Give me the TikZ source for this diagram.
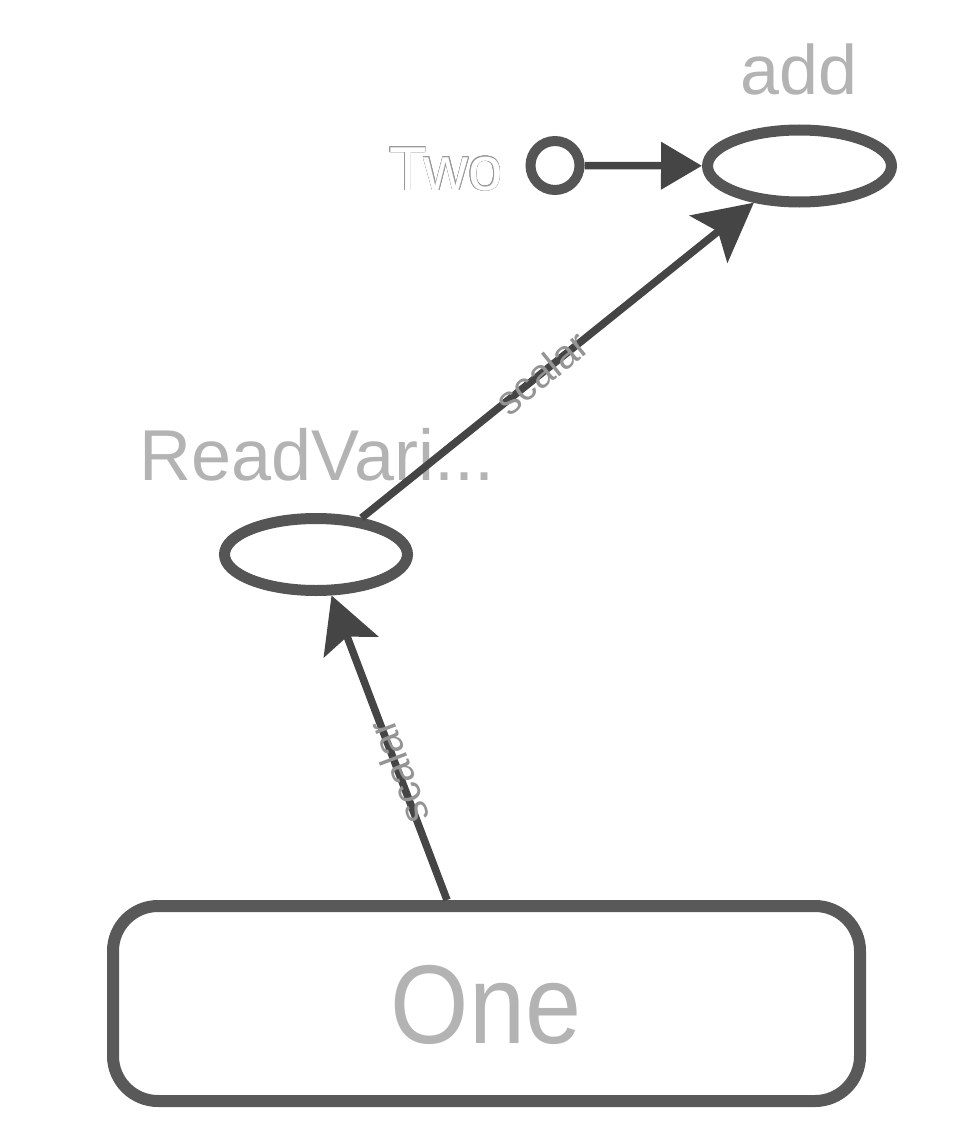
\documentclass[tikz,border=0pt]{standalone}
\usepackage{fontspec}
\setmainfont{Liberation Sans}
\usepackage{contour}
\contourlength{0.6pt}
\usetikzlibrary{shapes.geometric,arrows.meta}
\definecolor{nodeline}{HTML}{555555}
\definecolor{boxline}{HTML}{595959}
\definecolor{arrowline}{HTML}{454545}
\definecolor{labeltext}{HTML}{B3B3B3}
\definecolor{edgetext}{HTML}{949494}
\definecolor{outlinegray}{HTML}{999999}
\tikzset{
  opnode/.style={ellipse, draw=nodeline, line width=11pt, inner sep=0pt,
    minimum width=184pt, minimum height=72pt, fill=white},
  srcnode/.style={circle, draw=nodeline, line width=10pt, inner sep=0pt,
    minimum size=49pt, fill=white},
  boxnode/.style={rectangle, rounded corners=45pt, draw=boxline, line width=12pt,
    inner sep=0pt, minimum width=747pt, minimum height=195pt},
  nametext/.style={text=labeltext, inner sep=0pt, anchor=base},
  flow/.style={draw=arrowline, line width=7.5pt},
  edgelabel/.style={text=edgetext, inner sep=0pt, anchor=north,
    text height=10pt, text depth=0pt,
    font=\fontsize{40}{44}\selectfont}
}
\begin{document}
\begin{tikzpicture}[x=1pt,y=-1pt]
\useasboundingbox (0,0) rectangle (966,1134);
% nodes
\node[opnode] (add) at (799.5,166) {};
\node[opnode, minimum width=183pt] (read) at (316,554.5) {};
\node[srcnode] (two) at (555,165.5) {};
\node[boxnode] (one) at (486.5,1003.5) {};
% names
\node[nametext, font=\fontsize{70}{80}\selectfont] (addname) at (799,95) {add};
\node[inner sep=0pt, anchor=base, font=\fontsize{62}{70}\selectfont] (twoname) at (446,190) {\contour{outlinegray}{\textcolor{white}{Two}}};
\node[nametext, font=\fontsize{72}{80}\selectfont] (readname) at (317,480) {ReadVari...};
\node[nametext, font=\fontsize{112}{120}\selectfont, xscale=0.9] (onename) at (486,1043) {One};
% connectors
\draw[flow, -{Triangle[length=41pt,width=46pt]}] (two) -- (add);
\draw[flow, -{Stealth[length=58pt,width=60pt,inset=12pt]}] (read) -- (add)
  node[edgelabel, pos=0.46, sloped] (lab1) {scalar};
\coordinate (onetop) at ([xshift=-39.5pt]one.north);
\draw[flow, -{Stealth[length=55pt,width=58pt,inset=11pt]}] (onetop) -- (read)
  node[edgelabel, pos=0.42, sloped, allow upside down] (lab2) {scalar};
\end{tikzpicture}
\end{document}
